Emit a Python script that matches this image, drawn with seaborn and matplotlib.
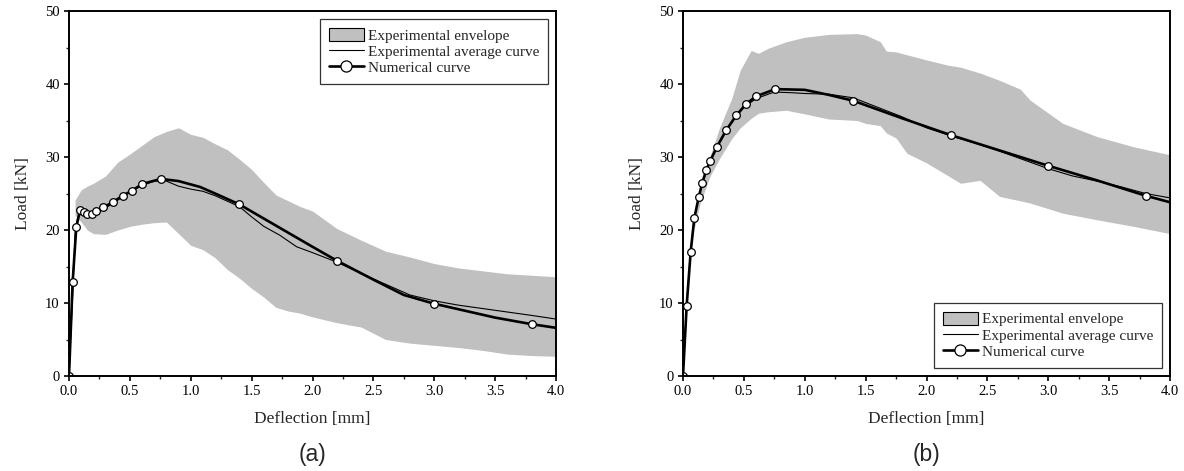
import matplotlib
matplotlib.use("Agg")
import matplotlib.pyplot as plt
import seaborn as sns
from matplotlib.patches import Patch
from matplotlib.lines import Line2D
from matplotlib.ticker import MultipleLocator

# ---- panel (a) ----
env_a_x = [0.05, 0.1, 0.15, 0.2, 0.3, 0.4, 0.5, 0.6, 0.7, 0.8, 0.9, 1.0, 1.1, 1.2, 1.3,
           1.4, 1.5, 1.6, 1.7, 1.8, 1.9, 2.0, 2.2, 2.4, 2.6, 2.8, 3.0, 3.2, 3.4, 3.6, 3.8, 4.0]
env_a_hi = [24.1, 25.5, 26.0, 26.4, 27.4, 29.3, 30.4, 31.6, 32.8, 33.5, 34.0, 33.1, 32.7, 31.8, 31.0,
            29.7, 28.3, 26.5, 24.8, 24.0, 23.2, 22.6, 20.2, 18.6, 17.1, 16.3, 15.4, 14.8, 14.4, 14.0, 13.8, 13.6]
env_a_lo = [22.0, 21.1, 20.0, 19.5, 19.4, 20.0, 20.5, 20.8, 21.0, 21.1, 19.5, 17.9, 17.3, 16.2, 14.6,
            13.4, 12.0, 10.8, 9.4, 8.9, 8.6, 8.1, 7.3, 6.7, 5.0, 4.5, 4.2, 3.9, 3.5, 3.0, 2.8, 2.7]

avg_a_x = [0, 0.03, 0.05, 0.07, 0.1, 0.15, 0.2, 0.3, 0.4, 0.5, 0.6, 0.7, 0.8, 0.9, 1.0, 1.1, 1.2,
           1.4, 1.5, 1.6, 1.73, 1.87, 2.0, 2.2, 2.5, 2.8, 3.0, 3.2, 3.5, 3.8, 4.0]
avg_a_y = [0, 11.0, 19.5, 21.6, 22.3, 22.0, 22.3, 23.0, 24.1, 25.2, 26.1, 26.7, 26.7, 26.0, 25.6, 25.3, 24.7,
           23.2, 21.8, 20.5, 19.3, 17.7, 16.9, 15.6, 13.3, 11.1, 10.3, 9.7, 9.0, 8.3, 7.8]

num_a_x = [0, 0.03, 0.06, 0.09, 0.12, 0.15, 0.19, 0.22, 0.28, 0.36, 0.44, 0.52, 0.60, 0.755, 0.9, 1.076,
           1.2, 1.4, 1.7, 2.0, 2.2, 2.5, 2.75, 3.0, 3.5, 3.8, 4.0]
num_a_y = [0, 12.9, 20.4, 22.7, 22.4, 22.2, 22.2, 22.6, 23.1, 23.8, 24.7, 25.4, 26.3, 27.0, 26.7, 25.9,
           25.0, 23.5, 20.6, 17.7, 15.8, 13.2, 11.1, 9.9, 8.0, 7.1, 6.6]
mark_a = [0, 1, 2, 3, 4, 5, 6, 7, 8, 9, 10, 11, 12, 13, 17, 20, 23, 25]

# ---- panel (b) ----
env_b_x = [0.09, 0.14, 0.22, 0.3, 0.4, 0.47, 0.56, 0.62, 0.7, 0.85, 1.0, 1.2, 1.43, 1.5, 1.62, 1.67,
           1.75, 1.84, 2.0, 2.17, 2.28, 2.44, 2.6, 2.77, 2.85, 3.12, 3.4, 3.7, 4.0]
env_b_hi = [20.5, 25.5, 30.0, 34.0, 38.0, 41.9, 44.6, 44.2, 44.9, 45.8, 46.4, 46.8, 46.9, 46.7, 45.8, 44.5,
            44.4, 44.0, 43.3, 42.6, 42.3, 41.5, 40.5, 39.3, 37.8, 34.6, 32.8, 31.4, 30.3]
env_b_lo = [20.0, 23.6, 27.3, 29.8, 32.5, 34.0, 35.3, 36.0, 36.2, 36.4, 35.9, 35.2, 35.0, 34.6, 34.3, 33.3,
            32.6, 30.5, 29.2, 27.5, 26.4, 26.8, 24.6, 24.0, 23.7, 22.3, 21.4, 20.5, 19.5]

avg_b_x = [0, 0.03, 0.06, 0.09, 0.13, 0.2, 0.3, 0.4, 0.5, 0.6, 0.75, 0.9, 1.0, 1.2, 1.4, 1.6, 1.8,
           2.0, 2.2, 2.4, 2.6, 2.8, 3.0, 3.2, 3.4, 3.6, 3.8, 4.0]
avg_b_y = [0, 10.0, 16.5, 21.5, 24.6, 28.5, 32.0, 34.8, 36.8, 38.0, 38.9, 38.8, 38.7, 38.6, 38.1, 36.8, 35.5,
           34.0, 32.9, 31.9, 30.8, 29.6, 28.4, 27.4, 26.7, 25.9, 25.0, 24.4]

num_b_x = [0, 0.030, 0.063, 0.093, 0.129, 0.159, 0.191, 0.224, 0.279, 0.356, 0.438, 0.520, 0.600, 0.758,
           1.0, 1.2, 1.4, 1.8, 2.2, 2.6, 3.0, 3.4, 3.8, 4.0]
num_b_y = [0, 9.6, 17.0, 21.6, 24.5, 26.5, 28.2, 29.5, 31.4, 33.7, 35.7, 37.3, 38.3, 39.3,
           39.2, 38.5, 37.7, 35.3, 33.0, 30.9, 28.8, 26.8, 24.7, 23.8]
mark_b = [0, 1, 2, 3, 4, 5, 6, 7, 8, 9, 10, 11, 12, 13, 16, 18, 20, 22]

panels = [
    ("(a)", env_a_x, env_a_hi, env_a_lo, avg_a_x, avg_a_y, num_a_x, num_a_y, mark_a, "upper right"),
    ("(b)", env_b_x, env_b_hi, env_b_lo, avg_b_x, avg_b_y, num_b_x, num_b_y, mark_b, "lower right"),
]

sns.set_theme(style="ticks")
plt.rcParams["font.family"] = ["Liberation Serif", "DejaVu Serif"]

fig = plt.figure(figsize=(11.84, 4.71), dpi=100)
lefts = [69 / 1184, 683 / 1184]
env_col = "#c0c0c0"

for left, (lab, ex, ehi, elo, ax_x, ax_y, nx, ny, marks, loc) in zip(lefts, panels):
    ax = fig.add_axes([left, 95 / 471, 487 / 1184, 365 / 471])
    ax.fill_between(ex, elo, ehi, color=env_col, linewidth=0)
    sns.lineplot(x=ax_x, y=ax_y, ax=ax, color="black", linewidth=0.8,
                 sort=False, estimator=None)
    sns.lineplot(x=nx, y=ny, ax=ax, color="black", linewidth=1.9, sort=False, estimator=None,
                 marker="o", markersize=5.5, markerfacecolor="white", markeredgecolor="black",
                 markeredgewidth=0.9, markevery=marks)
    ax.set_xlim(0, 4)
    ax.set_ylim(0, 50)
    ax.xaxis.set_major_locator(MultipleLocator(0.5))
    ax.xaxis.set_minor_locator(MultipleLocator(0.25))
    ax.yaxis.set_major_locator(MultipleLocator(10))
    ax.yaxis.set_minor_locator(MultipleLocator(5))
    ax.xaxis.set_major_formatter(plt.FormatStrFormatter("%.1f"))
    ax.tick_params(which="major", direction="out", length=3.6, width=1.2, labelsize=10.5,
                   colors="black", pad=3)
    ax.tick_params(which="minor", direction="out", length=2.2, width=1.0)
    for s in ax.spines.values():
        s.set_visible(True)
        s.set_linewidth(1.4)
        s.set_color("black")
    ax.set_xlabel("Deflection [mm]", fontsize=12.5, labelpad=9)
    ax.set_ylabel("Load [kN]", fontsize=12.5, labelpad=10)

    handles = [
        Patch(facecolor=env_col, edgecolor="black", linewidth=0.8),
        Line2D([], [], color="black", linewidth=0.8),
        Line2D([], [], color="black", linewidth=1.9, marker="o", markersize=8,
               markerfacecolor="white", markeredgecolor="black", markeredgewidth=0.9),
    ]
    labels = ["Experimental envelope", "Experimental average curve", "Numerical curve"]
    leg = ax.legend(handles, labels, loc=loc, fontsize=11, frameon=True, fancybox=False,
                    edgecolor="black", handlelength=2.3, handleheight=0.95, handletextpad=0.25,
                    labelspacing=0.1, borderpad=0.55, borderaxespad=0.55)
    leg.get_frame().set_linewidth(0.9)

    fig.text(left + 487 / 1184 / 2, 0.035, lab, ha="center", va="center",
             fontsize=16.5, family="Liberation Sans")

fig.savefig("out.png", dpi=100)
